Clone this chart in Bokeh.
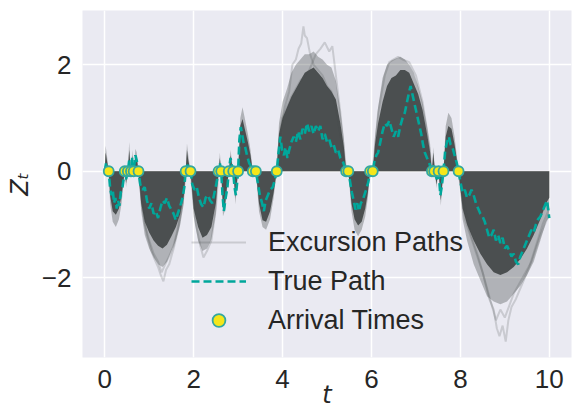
from bokeh.plotting import figure
from bokeh.models import Range1d, Legend, LegendItem, FixedTicker
from bokeh.embed import file_html
from bokeh.resources import INLINE

# ---------------- data ----------------
x_ticks = [0, 2, 4, 6, 8, 10]
y_ticks = [-2, 0, 2]
y_tick_labels = {-2: "\u22122", 0: "0", 2: "2"}

arrival_times = [0.09, 0.45, 0.52, 0.59, 0.65, 0.76, 1.82, 1.93, 2.56, 2.62,
                 2.79, 2.89, 3.00, 3.33, 3.40, 3.87, 5.43, 5.48, 5.97, 6.03,
                 7.36, 7.41, 7.51, 7.62, 7.96]

# envelope of the bundle of excursion paths (dense core and faint fringe)
band_t = [0.00, 0.02, 0.05, 0.09,
          0.09, 0.12, 0.18, 0.25, 0.32, 0.38, 0.45,
          0.45, 0.48, 0.52,
          0.52, 0.55, 0.59,
          0.59, 0.62, 0.65,
          0.65, 0.69, 0.72, 0.76,
          0.76, 0.82, 0.90, 1.00, 1.10, 1.20, 1.30, 1.40, 1.50, 1.60, 1.70, 1.78, 1.82,
          1.82, 1.85, 1.88, 1.93,
          1.93, 2.00, 2.10, 2.20, 2.30, 2.40, 2.50, 2.56,
          2.56, 2.59, 2.62,
          2.62, 2.66, 2.71, 2.79,
          2.79, 2.83, 2.89,
          2.89, 2.94, 3.00,
          3.00, 3.05, 3.10, 3.15, 3.22, 3.28, 3.33,
          3.33, 3.36, 3.40,
          3.40, 3.47, 3.55, 3.63, 3.72, 3.80, 3.87,
          3.87, 3.92, 4.00, 4.10, 4.20, 4.30, 4.40, 4.50, 4.60, 4.70, 4.80, 4.90,
          5.00, 5.10, 5.20, 5.30, 5.38, 5.43,
          5.43, 5.45, 5.48,
          5.48, 5.55, 5.62, 5.70, 5.78, 5.86, 5.92, 5.97,
          5.97, 6.00, 6.03,
          6.03, 6.08, 6.15, 6.25, 6.35, 6.45, 6.55, 6.65, 6.75, 6.85, 6.95, 7.05,
          7.15, 7.25, 7.32, 7.36,
          7.36, 7.39, 7.43,
          7.43, 7.46, 7.51,
          7.51, 7.56, 7.62,
          7.62, 7.67, 7.73, 7.80, 7.87, 7.96,
          7.96, 8.05, 8.15, 8.30, 8.45, 8.60, 8.75, 8.90, 9.05, 9.20, 9.35, 9.50,
          9.65, 9.80, 9.93, 10.00]
band_core = [0, 0.35, 0.20, 0,
             0, -0.45, -0.75, -0.82, -0.70, -0.45, 0,
             0, -0.22, 0,
             0, 0.40, 0,
             0, 0.30, 0,
             0, 0.30, 0.25, 0,
             0, -0.60, -0.95, -1.15, -1.30, -1.40, -1.45, -1.38, -1.22, -1.05, -0.80, -0.45, 0,
             0, 0.40, 0.20, 0,
             0, -0.70, -1.05, -1.25, -1.20, -1.05, -0.60, 0,
             0, 0.25, 0,
             0, -0.70, -0.60, 0,
             0, 0.30, 0,
             0, -0.50, 0,
             0, 0.85, 0.98, 0.80, 0.55, 0.30, 0,
             0, 0.08, 0,
             0, -0.60, -0.92, -0.95, -0.75, -0.40, 0,
             0, 0.70, 1.00, 1.20, 1.40, 1.55, 1.70, 1.85, 1.90, 1.95, 1.85, 1.75,
             1.60, 1.50, 1.35, 0.90, 0.45, 0,
             0, 0.08, 0,
             0, -0.60, -0.90, -1.02, -0.95, -0.70, -0.40, 0,
             0, 0.08, 0,
             0, 0.50, 0.90, 1.30, 1.60, 1.75, 1.80, 1.90, 1.90, 1.85, 1.65, 1.45,
             1.15, 0.70, 0.35, 0,
             0, 0.35, 0,
             0, -0.25, 0,
             0, -0.55, 0,
             0, 0.65, 0.85, 0.80, 0.50, 0,
             0, -0.70, -1.00, -1.30, -1.55, -1.75, -1.90, -1.95, -1.90, -1.80, -1.65, -1.45,
             -1.20, -0.90, -0.60, -0.50]
band_outer = [0, 0.48, 0.30, 0,
              0, -0.60, -0.95, -1.05, -0.90, -0.60, 0,
              0, -0.30, 0,
              0, 0.55, 0,
              0, 0.40, 0,
              0, 0.42, 0.35, 0,
              0, -0.75, -1.20, -1.45, -1.62, -1.75, -1.80, -1.70, -1.50, -1.30, -1.00, -0.60, 0,
              0, 0.52, 0.30, 0,
              0, -0.85, -1.30, -1.50, -1.45, -1.28, -0.80, 0,
              0, 0.35, 0,
              0, -0.85, -0.72, 0,
              0, 0.40, 0,
              0, -0.62, 0,
              0, 1.00, 1.20, 1.00, 0.70, 0.40, 0,
              0, 0.12, 0,
              0, -0.75, -1.05, -1.10, -0.90, -0.50, 0,
              0, 0.90, 1.30, 1.55, 1.85, 2.00, 2.10, 2.20, 2.20, 2.25, 2.15, 2.10,
              2.00, 1.95, 1.70, 1.15, 0.60, 0,
              0, 0.12, 0,
              0, -0.75, -1.10, -1.22, -1.10, -0.85, -0.50, 0,
              0, 0.12, 0,
              0, 0.65, 1.20, 1.75, 2.00, 2.08, 2.12, 2.15, 2.10, 2.00, 1.85, 1.60,
              1.30, 0.85, 0.45, 0,
              0, 0.45, 0,
              0, -0.32, 0,
              0, -0.65, 0,
              0, 0.85, 1.10, 1.00, 0.65, 0,
              0, -0.90, -1.30, -1.75, -2.05, -2.35, -2.45, -2.50, -2.45, -2.30, -2.15, -1.95,
              -1.70, -1.30, -0.95, -0.85]

# a few faint outlying excursion paths
outlier_paths = [
    ([0.76, 0.85, 0.95, 1.05, 1.12, 1.20, 1.26, 1.32, 1.38, 1.45, 1.55, 1.65, 1.75, 1.82],
     [0, -0.70, -1.20, -1.50, -1.65, -1.80, -1.95, -2.07, -1.85, -1.75, -1.45, -1.10, -0.60, 0]),
    ([0.76, 0.90, 1.00, 1.10, 1.20, 1.28, 1.36, 1.45, 1.55, 1.65, 1.75, 1.82],
     [0, -1.00, -1.30, -1.55, -1.70, -1.90, -1.75, -1.60, -1.40, -1.05, -0.55, 0]),
    ([1.93, 2.05, 2.15, 2.22, 2.30, 2.40, 2.50, 2.56],
     [0, -1.00, -1.40, -1.62, -1.50, -1.30, -0.70, 0]),
    ([3.87, 3.95, 4.05, 4.15, 4.22, 4.30, 4.36, 4.42, 4.47, 4.50, 4.55, 4.62, 4.70, 4.80,
      4.90, 5.00, 5.10, 5.20, 5.30, 5.43],
     [0, 0.80, 1.20, 1.50, 2.00, 2.10, 2.30, 2.40, 2.72, 2.55, 2.50, 2.20, 2.00, 1.90,
      1.80, 1.60, 1.50, 1.20, 0.70, 0]),
    ([3.87, 4.00, 4.20, 4.40, 4.60, 4.75, 4.85, 4.95, 5.05, 5.12, 5.20, 5.30, 5.43],
     [0, 1.00, 1.40, 1.70, 1.90, 2.20, 2.30, 2.42, 2.25, 2.35, 1.80, 1.10, 0]),
    ([6.03, 6.15, 6.30, 6.40, 6.50, 6.60, 6.70, 6.85, 7.00, 7.15, 7.30, 7.36],
     [0, 1.10, 1.80, 2.05, 2.10, 2.15, 2.10, 2.05, 1.80, 1.30, 0.50, 0]),
    ([7.96, 8.10, 8.30, 8.50, 8.65, 8.75, 8.82, 8.88, 8.95, 9.02, 9.08, 9.15, 9.25,
      9.40, 9.55, 9.70, 9.85, 10.00],
     [0, -0.90, -1.40, -1.90, -2.40, -2.60, -2.95, -3.10, -2.90, -3.20, -2.80, -2.55,
      -2.40, -2.10, -1.80, -1.40, -1.00, -0.70]),
    ([7.96, 8.20, 8.40, 8.60, 8.80, 8.90, 9.00, 9.20, 9.40, 9.60, 9.80, 10.00],
     [0, -1.10, -1.60, -2.20, -2.80, -2.60, -2.75, -2.30, -2.00, -1.70, -1.20, -0.80]),
]

# the true path
true_t = [0.00, 0.03, 0.06, 0.09, 0.12, 0.15, 0.18, 0.21, 0.24, 0.27, 0.30, 0.33, 0.36, 0.40,
          0.45, 0.48, 0.52, 0.55, 0.59, 0.62, 0.65, 0.69, 0.72, 0.76, 0.80, 0.85, 0.90, 0.95,
          1.00, 1.05, 1.10, 1.15, 1.20, 1.25, 1.30, 1.35, 1.40, 1.45, 1.50, 1.55, 1.60, 1.65,
          1.70, 1.75, 1.79, 1.82, 1.86, 1.93, 1.97, 2.02, 2.07, 2.12, 2.17, 2.22, 2.27, 2.32,
          2.37, 2.42, 2.47, 2.52, 2.56, 2.59, 2.62, 2.65, 2.68, 2.72, 2.76, 2.79, 2.83, 2.86,
          2.89, 2.92, 2.95, 2.98, 3.00, 3.03, 3.06, 3.09, 3.12, 3.16, 3.20, 3.25, 3.29, 3.33,
          3.37, 3.40, 3.44, 3.49, 3.54, 3.58, 3.62, 3.67, 3.72, 3.78, 3.83, 3.87, 3.91, 3.95,
          3.99, 4.03, 4.07, 4.11, 4.15, 4.20, 4.25, 4.30, 4.35, 4.40, 4.45, 4.50, 4.55, 4.60,
          4.65, 4.70, 4.75, 4.80, 4.85, 4.90, 4.95, 5.00, 5.05, 5.10, 5.15, 5.20, 5.25, 5.30,
          5.35, 5.40, 5.43, 5.46, 5.48, 5.52, 5.56, 5.60, 5.64, 5.68, 5.72, 5.76, 5.80, 5.84,
          5.88, 5.93, 5.97, 6.00, 6.03, 6.07, 6.11, 6.15, 6.20, 6.25, 6.30, 6.35, 6.40, 6.45,
          6.50, 6.55, 6.60, 6.65, 6.70, 6.75, 6.80, 6.85, 6.88, 6.92, 6.96, 7.00, 7.04, 7.08,
          7.12, 7.16, 7.20, 7.25, 7.30, 7.36, 7.39, 7.43, 7.47, 7.51, 7.55, 7.58, 7.62, 7.66,
          7.70, 7.74, 7.78, 7.82, 7.87, 7.92, 7.96, 8.00, 8.05, 8.10, 8.15, 8.20, 8.25, 8.30,
          8.35, 8.40, 8.45, 8.50, 8.55, 8.60, 8.65, 8.70, 8.75, 8.80, 8.85, 8.90, 8.95, 9.00,
          9.05, 9.10, 9.15, 9.20, 9.25, 9.30, 9.35, 9.40, 9.45, 9.50, 9.55, 9.60, 9.65, 9.70,
          9.75, 9.80, 9.85, 9.90, 9.95, 10.00]
true_z = [0.00, 0.15, 0.08, 0.00, -0.30, -0.45, -0.35, -0.60, -0.50, -0.70, -0.55, -0.65, -0.40, -0.30,
          0.00, -0.15, 0.00, 0.20, 0.00, 0.25, 0.00, 0.30, 0.20, 0.00, -0.25, -0.35, -0.30, -0.55,
          -0.70, -0.60, -0.80, -0.75, -0.88, -0.70, -0.55, -0.60, -0.50, -0.65, -0.72, -0.80, -0.92, -0.78,
          -0.65, -0.50, -0.30, 0.00, 0.12, 0.00, -0.25, -0.35, -0.30, -0.50, -0.62, -0.68, -0.50, -0.45,
          -0.55, -0.60, -0.40, -0.20, 0.00, 0.15, 0.00, -0.45, -0.75, -0.50, -0.30, 0.00, 0.25, 0.10,
          0.00, -0.30, -0.45, -0.20, 0.00, 0.60, 0.83, 0.70, 0.55, 0.45, 0.30, 0.15, 0.10, 0.00,
          0.05, 0.00, -0.20, -0.45, -0.60, -0.75, -0.55, -0.45, -0.35, -0.30, -0.15, 0.00, 0.35, 0.65,
          0.40, 0.30, 0.45, 0.25, 0.40, 0.55, 0.65, 0.55, 0.75, 0.60, 0.80, 0.70, 0.90, 0.75,
          0.85, 0.70, 0.85, 0.75, 0.85, 0.60, 0.70, 0.55, 0.60, 0.45, 0.50, 0.35, 0.40, 0.25,
          0.20, 0.08, 0.00, 0.05, 0.00, -0.20, -0.40, -0.55, -0.72, -0.60, -0.75, -0.60, -0.55, -0.45,
          -0.35, -0.20, 0.00, 0.05, 0.00, 0.20, 0.30, 0.35, 0.55, 0.75, 0.90, 0.85, 0.95, 0.80,
          0.65, 0.75, 0.65, 0.85, 1.00, 1.10, 1.30, 1.50, 1.60, 1.45, 1.30, 1.15, 1.00, 0.85,
          0.70, 0.50, 0.35, 0.25, 0.15, 0.00, 0.10, 0.00, -0.15, 0.00, -0.45, -0.30, 0.00, 0.40,
          0.55, 0.65, 0.50, 0.45, 0.30, 0.15, 0.00, -0.20, -0.40, -0.35, -0.50, -0.45, -0.35, -0.45,
          -0.60, -0.70, -0.80, -0.85, -0.95, -1.10, -1.25, -1.20, -1.10, -1.30, -1.20, -1.35, -1.25, -1.45,
          -1.40, -1.50, -1.60, -1.55, -1.70, -1.75, -1.60, -1.50, -1.40, -1.30, -1.20, -1.10, -1.15, -1.00,
          -0.90, -0.85, -0.75, -0.65, -0.55, -0.88]

# ---------------- styles ----------------
BG = "#EAEAF2"
PATH_GREY = "#464a4a"
TEAL = "#00a79b"
DOT_FILL = "#f5e61a"
DOT_EDGE = "#33a8a0"
TXT = "#262626"
FONT = "Liberation Sans"

p = figure(width=574, height=411,
           x_range=Range1d(-0.5, 10.5), y_range=Range1d(-3.5, 3.02),
           output_backend="svg", toolbar_location=None,
           min_border_left=82, min_border_right=3, min_border_top=10, min_border_bottom=53,
           background_fill_color=BG, border_fill_color="white")
p.outline_line_color = None

# excursion path bundle
p.varea(x=band_t, y1=[0] * len(band_t), y2=band_outer, fill_color=PATH_GREY, fill_alpha=0.35)
p.varea(x=band_t, y1=[0] * len(band_t), y2=band_core, fill_color=PATH_GREY, fill_alpha=0.95)
exc_renderer = None
for ot, oz in outlier_paths:
    r = p.line(ot, oz, line_color=PATH_GREY, line_alpha=0.2, line_width=2)
    if exc_renderer is None:
        exc_renderer = r

true_r = p.line(true_t, true_z, line_color=TEAL, line_width=2.6, line_dash="8 4")
arr_r = p.scatter(arrival_times, [0] * len(arrival_times), size=10,
                  fill_color=DOT_FILL, line_color=DOT_EDGE, line_width=1.8)

# axes
for ax in (p.xaxis[0], p.yaxis[0]):
    ax.axis_line_color = None
    ax.major_tick_line_color = None
    ax.minor_tick_line_color = None
    ax.major_label_text_font = FONT
    ax.major_label_text_font_size = "26px"
    ax.major_label_text_color = TXT
    ax.axis_label_text_font = "DejaVu Sans"
    ax.axis_label_text_font_style = "italic"
    ax.axis_label_text_font_size = "24px"
    ax.axis_label_text_color = TXT

p.xaxis.ticker = FixedTicker(ticks=x_ticks)
p.yaxis.ticker = FixedTicker(ticks=y_ticks)
p.yaxis.major_label_overrides = y_tick_labels
p.xaxis.major_label_standoff = 6
p.yaxis.major_label_standoff = 5

p.xaxis.axis_label = "t"
p.xaxis.axis_label_standoff = -10
p.yaxis.axis_label = "Z\u209c"
p.yaxis.axis_label_standoff = 5

p.grid.grid_line_color = "white"
p.grid.grid_line_width = 1.5

legend = Legend(items=[LegendItem(label="Excursion Paths", renderers=[exc_renderer]),
                       LegendItem(label="True Path", renderers=[true_r]),
                       LegendItem(label="Arrival Times", renderers=[arr_r])],
                location=(109, 21))
legend.background_fill_alpha = 0
legend.border_line_alpha = 0
legend.padding = 0
legend.margin = 0
legend.spacing = 7
legend.glyph_width = 55
legend.glyph_height = 32
legend.label_height = 32
legend.label_standoff = 22
legend.label_text_font = FONT
legend.label_text_font_size = "27px"
legend.label_text_color = TXT
p.add_layout(legend)

open("out.html", "w").write(file_html(p, INLINE))
